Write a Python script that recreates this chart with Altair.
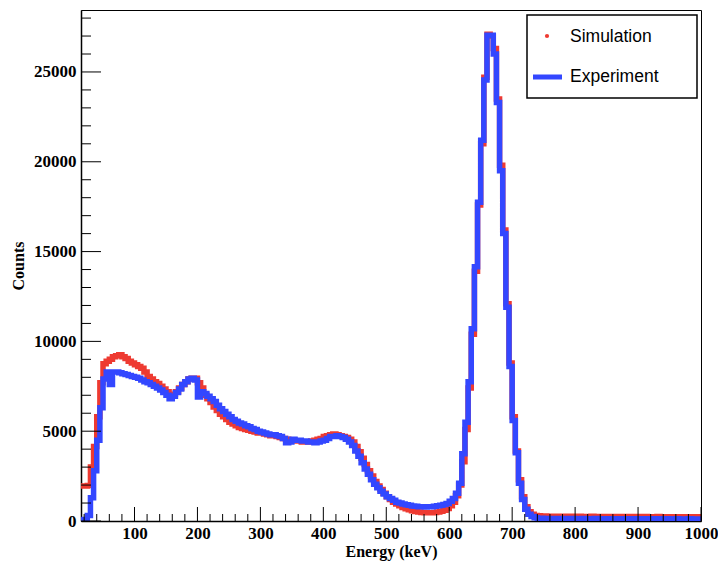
import altair as alt
import pandas as pd

# ---------------- data ----------------
# lower edges of the 5 keV bins, 15 keV ... 995 keV ; the histograms end at 1000 keV
energy = list(range(15, 1000, 5))
last_edge = 1000

simulation = [
    1950, 1950, 1980, 3000, 4150, 5800, 7700, 8750, 8900, 9000,      # 15-60
    9150, 9200, 9250, 9150, 9050, 8900, 8800, 8700, 8600, 8500,      # 65-110
    8300, 8050, 7900, 7750, 7650, 7500, 7350, 7200, 7050, 7050,      # 115-160
    7200, 7400, 7600, 7750, 7900, 7950, 7950, 7700, 7400, 7000,      # 165-210
    6800, 6600, 6350, 6150, 5950, 5800, 5650, 5500, 5400, 5300,      # 215-260
    5200, 5150, 5100, 5050, 5000, 4950, 4900, 4900, 4850, 4800,      # 265-310
    4750, 4750, 4700, 4650, 4600, 4550, 4500, 4500, 4450, 4450,      # 315-360
    4400, 4400, 4400, 4450, 4500, 4550, 4600, 4700, 4750, 4800,      # 365-410
    4850, 4800, 4750, 4700, 4650, 4550, 4400, 4150, 3850, 3500,      # 415-460
    3150, 2800, 2500, 2200, 1950, 1750, 1550, 1350, 1200, 1050,      # 465-510
    950, 850, 750, 680, 620, 570, 530, 500, 480, 460,                # 515-560
    460, 460, 470, 500, 540, 600, 700, 850, 1050, 1400,              # 565-610
    2000, 3300, 5100, 7400, 10400, 13900, 17600, 21000, 24700, 27100,  # 615-660
    27000, 26300, 23500, 19800, 16200, 12100, 8800, 5800, 3900, 2300,  # 665-710
    1350, 800, 520, 380, 310,                                        # 715-735
    290, 280, 275, 270, 265, 270, 265, 260, 265, 260,                # 740-785
    255, 260, 265, 260, 255, 250, 255, 260, 255, 250,                # 790-835
    255, 250, 245, 250, 255, 250, 245, 250, 245, 240,                # 840-885
    245, 250, 245, 240, 245, 240, 235, 240, 245, 240,                # 890-935
    235, 240, 235, 230, 235, 240, 235, 230, 235, 230,                # 940-985
    225, 230,                                                        # 990-995
]

experiment = [
    60, 80, 300, 1300, 2800, 4500, 6300, 7900, 8300, 7600,           # 15-60
    8300, 8300, 8250, 8200, 8150, 8100, 8050, 8000, 7950, 7850,      # 65-110
    7750, 7700, 7600, 7500, 7400, 7300, 7150, 7000, 6800, 6950,      # 115-160
    7150, 7350, 7600, 7750, 7900, 7950, 7850, 6900, 7200, 7100,      # 165-210
    6950, 6800, 6650, 6450, 6250, 6100, 5950, 5800, 5650, 5550,      # 215-260
    5450, 5400, 5300, 5250, 5150, 5100, 5000, 4950, 4900, 4850,      # 265-310
    4800, 4800, 4750, 4700, 4600, 4350, 4400, 4550, 4500, 4500,      # 315-360
    4450, 4450, 4400, 4400, 4350, 4400, 4450, 4500, 4600, 4700,      # 365-410
    4700, 4750, 4700, 4650, 4550, 4400, 4200, 3900, 3600, 3250,      # 415-460
    2900, 2600, 2300, 2050, 1850, 1650, 1500, 1350, 1250, 1150,      # 465-510
    1050, 1000, 950, 900, 870, 840, 820, 800, 790, 780,              # 515-560
    790, 800, 820, 850, 880, 920, 980, 1100, 1250, 1550,             # 565-610
    2100, 3750, 5500, 7750, 10700, 14150, 17750, 21200, 24550, 27050,  # 615-660
    27050, 26000, 23300, 19500, 16000, 11900, 8600, 5600, 3800, 2100,  # 665-710
    1200, 650, 380, 250, 180,                                        # 715-735
    160, 150, 145, 140, 140, 135, 140, 135, 130, 135,                # 740-785
    140, 135, 130, 130, 135, 130, 125, 130, 135, 130,                # 790-835
    125, 130, 130, 125, 130, 125, 120, 125, 130, 125,                # 840-885
    120, 125, 120, 120, 125, 120, 115, 120, 125, 120,                # 890-935
    115, 120, 115, 115, 120, 115, 110, 115, 120, 115,                # 940-985
    110, 115,                                                        # 990-995
]

series_names = ["Simulation", "Experiment"]
series_colors = ["#ee3a31", "#3347ff"]

x_major = [100, 200, 300, 400, 500, 600, 700, 800, 900, 1000]
x_minor = [e for e in range(20, 1000, 20) if e % 100 != 0]
y_major = [0, 5000, 10000, 15000, 20000, 25000]
y_minor = [v for v in range(1000, 29000, 1000) if v % 5000 != 0]

assert len(simulation) == len(energy) and len(experiment) == len(energy)


def hist_table(values):
    return pd.DataFrame({"energy": energy + [last_edge],
                         "counts": values + [values[-1]]})


# ---------------- chart ----------------
W, H = 620, 511
xs = alt.Scale(domain=[15, 1000], nice=False, zero=False)
ys = alt.Scale(domain=[0, 28450], nice=False, zero=True)

serif = "Liberation Serif"
sans = "Liberation Sans"

x_axis = alt.Axis(values=x_major, format="d", title="Energy (keV)", grid=False,
                  ticks=False, domain=True, domainColor="black", domainWidth=1.5,
                  labelFont=serif, labelFontWeight="bold", labelFontSize=17,
                  labelColor="black", labelPadding=4, labelFlush=False,
                  labelOverlap=False, labelBound=False,
                  titleFont=serif, titleFontWeight="bold", titleFontSize=16,
                  titleColor="black", titleX=W / 2, titleY=35, titleAlign="center",
                  titleBaseline="alphabetic")
y_axis = alt.Axis(values=y_major, format="d", title="Counts", grid=False,
                  ticks=False, domain=True, domainColor="black", domainWidth=1.5,
                  labelFont=serif, labelFontWeight="bold", labelFontSize=17,
                  labelColor="black", labelPadding=5, labelFlush=False,
                  labelOverlap=False, labelBound=False,
                  titleFont=serif, titleFontWeight="bold", titleFontSize=16,
                  titleColor="black", titleAngle=270, titleX=-63, titleY=H / 2,
                  titleAlign="center", titleBaseline="middle")

sim = alt.Chart(hist_table(simulation)).mark_line(
    interpolate="step-after", color=series_colors[0], strokeWidth=5.5, clip=True
).encode(
    x=alt.X("energy:Q", scale=xs, axis=x_axis),
    y=alt.Y("counts:Q", scale=ys, axis=y_axis),
)

exp = alt.Chart(hist_table(experiment)).mark_line(
    interpolate="step-after", color=series_colors[1], strokeWidth=5.5, clip=True
).encode(
    x=alt.X("energy:Q", scale=xs),
    y=alt.Y("counts:Q", scale=ys),
)

# ROOT-style ticks pointing into the frame
xmaj = alt.Chart(pd.DataFrame({"energy": x_major})).mark_rule(color="black", strokeWidth=1).encode(
    x=alt.X("energy:Q", scale=xs), y=alt.value(H), y2=alt.value(H - 14))
xmin = alt.Chart(pd.DataFrame({"energy": x_minor})).mark_rule(color="black", strokeWidth=1).encode(
    x=alt.X("energy:Q", scale=xs), y=alt.value(H), y2=alt.value(H - 7))
ymaj = alt.Chart(pd.DataFrame({"counts": y_major})).mark_rule(color="black", strokeWidth=1).encode(
    y=alt.Y("counts:Q", scale=ys), x=alt.value(0), x2=alt.value(20))
ymin = alt.Chart(pd.DataFrame({"counts": y_minor})).mark_rule(color="black", strokeWidth=1).encode(
    y=alt.Y("counts:Q", scale=ys), x=alt.value(0), x2=alt.value(10))

# legend box (TLegend style), placed relative to the frame's right edge
LX = W - 174
one = pd.DataFrame({"k": [0]})
leg_box = alt.Chart(one).mark_rect(fill="white", stroke="black", strokeWidth=1.5).encode(
    x=alt.value(LX), x2=alt.value(LX + 170), y=alt.value(5), y2=alt.value(88))
leg_dot = alt.Chart(one).mark_point(filled=True, shape="circle", size=18,
                                    color=series_colors[0], opacity=1).encode(
    x=alt.value(LX + 20), y=alt.value(26))
leg_line = alt.Chart(one).mark_rule(color=series_colors[1], strokeWidth=5).encode(
    x=alt.value(LX + 6), x2=alt.value(LX + 35), y=alt.value(67))
leg_txt1 = alt.Chart(one).mark_text(text=series_names[0], font=sans, fontSize=17.5,
                                    align="left", baseline="middle", color="black").encode(
    x=alt.value(LX + 43), y=alt.value(27))
leg_txt2 = alt.Chart(one).mark_text(text=series_names[1], font=sans, fontSize=17.5,
                                    align="left", baseline="middle", color="black").encode(
    x=alt.value(LX + 43), y=alt.value(67))

chart = alt.layer(
    sim, exp, xmaj, xmin, ymaj, ymin, leg_box, leg_dot, leg_line, leg_txt1, leg_txt2
).properties(
    width=W, height=H,
    autosize=alt.AutoSizeParams(type="none"),
    padding={"left": 73, "top": 2, "right": 17, "bottom": 40},
    background="white",
).configure_view(stroke="black", strokeWidth=1)

chart.save("out.html", embed_options={"renderer": "svg", "actions": False})
